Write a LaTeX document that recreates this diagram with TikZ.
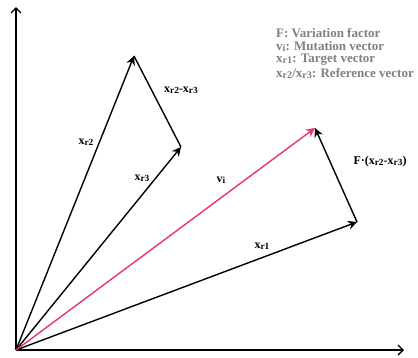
\documentclass[tikz,border=0pt]{standalone}
\usepackage{fontspec}
\setmainfont{Liberation Serif}
\usetikzlibrary{arrows.meta}
\definecolor{vpink}{RGB}{232,54,106}
\definecolor{lgray}{RGB}{128,128,128}
\newcommand{\sbs}[1]{\raisebox{-0.8pt}{\scalebox{0.78}{#1}}}
\begin{document}
\begin{tikzpicture}[x=1pt,y=-1pt,
  vec/.style={line width=1.4pt,-{Stealth[length=9pt,width=9pt]}},
  axis/.style={line width=1.4pt,-{Straight Barb[length=5pt,width=10pt]}},
  lbl/.style={font=\fontsize{12}{13}\selectfont\bfseries,inner sep=0pt},
  leg/.style={font=\fontsize{13}{14}\selectfont\bfseries,text=lgray,inner sep=0pt,anchor=west}]
\useasboundingbox (0,0) rectangle (418,357);
\coordinate (O) at (16,350);
\coordinate (Y) at (16,7);
\coordinate (X) at (404,350);
\coordinate (R2) at (134,56);
\coordinate (R3) at (181,147);
\coordinate (R1) at (357,222);
\coordinate (V) at (315,128);
\draw[axis] (O) -- (Y);
\draw[axis] (O) -- (X);
\draw[vec] (O) -- (R2);
\draw[vec] (O) -- (R3);
\draw[vec] (O) -- (R1);
\draw[vec,vpink] (O) -- (V);
\draw[line width=1.4pt] (R2) -- (R3);
\draw[vec] (R1) -- (V);
\node[lbl] (l2) at (86,142) {x\sbs{r2}};
\node[lbl] (l3) at (142,178) {x\sbs{r3}};
\node[lbl] (l23) at (181,90) {x\sbs{r2}-x\sbs{r3}};
\node[lbl] (lv) at (221,180) {v\sbs{i}};
\node[lbl] (lf) at (380,162) {F·(x\sbs{r2}-x\sbs{r3})};
\node[lbl] (l1) at (262,246) {x\sbs{r1}};
\node[leg] (g1) at (276,33) {F: Variation factor};
\node[leg] (g2) at (276,46.5) {v\sbs{i}: Mutation vector};
\node[leg] (g3) at (276,60) {x\sbs{r1}: Target vector};
\node[leg] (g4) at (276,73.5) {x\sbs{r2}/x\sbs{r3}: Reference vector};
\end{tikzpicture}
\end{document}
